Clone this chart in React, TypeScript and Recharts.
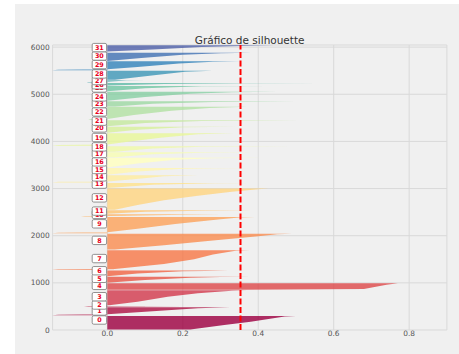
import React from 'react';
import { ComposedChart, Area, XAxis, YAxis, CartesianGrid, ReferenceLine, ReferenceDot } from 'recharts';

// Silhouette profile of each cluster: [sample index, silhouette value]
const clusterProfiles: number[][][] = [
  [[10, 0.22], [40, 0.25], [106, 0.31], [176, 0.38], [248, 0.44], [288, 0.47], [297, 0.5]],
  [[311, -0.147], [323, -0.13], [333, 0.0], [400, 0.12], [460, 0.24], [472, 0.28], [481, 0.326]],
  [[490, -0.062], [500, -0.05], [506, 0.1], [510, 0.2]],
  [[518, -0.02], [528, 0.01], [600, 0.08], [705, 0.16], [777, 0.24], [830, 0.33], [845, 0.37]],
  [[855, 0.35], [868, 0.68], [960, 0.74], [980, 0.76], [990, 0.77]],
  [[1000, 0.0], [1060, 0.1], [1110, 0.22], [1122, 0.3], [1129, 0.383]],
  [[1139, 0.0], [1200, 0.08], [1245, 0.2], [1254, 0.26], [1261, 0.32]],
  [[1271, -0.147], [1283, -0.13], [1294, 0.02], [1400, 0.15], [1500, 0.23], [1600, 0.28], [1680, 0.34], [1693, 0.378]],
  [[1705, 0.02], [1800, 0.15], [1900, 0.28], [1990, 0.4], [2030, 0.45], [2042, 0.489]],
  [[2052, -0.147], [2064, -0.13], [2075, 0.0], [2150, 0.08], [2250, 0.18], [2350, 0.3], [2385, 0.35], [2395, 0.39]],
  [[2403, -0.07], [2414, -0.06], [2422, 0.05], [2445, 0.2], [2455, 0.3]],
  [[2465, 0.0], [2510, 0.1], [2532, 0.25], [2541, 0.385]],
  [[2551, 0.02], [2650, 0.08], [2750, 0.15], [2850, 0.24], [2930, 0.33], [2985, 0.4], [3000, 0.427]],
  [[3010, 0.0], [3080, 0.12], [3112, 0.28], [3120, 0.378]],
  [[3130, -0.147], [3142, -0.13], [3152, 0.0], [3200, 0.07], [3260, 0.15], [3282, 0.24]],
  [[3292, 0.0], [3360, 0.08], [3420, 0.2], [3432, 0.28], [3438, 0.385]],
  [[3448, 0.0], [3530, 0.08], [3610, 0.18], [3645, 0.28], [3655, 0.41]],
  [[3665, 0.02], [3730, 0.12], [3762, 0.25], [3772, 0.385]],
  [[3782, 0.02], [3850, 0.12], [3885, 0.25], [3900, 0.49]],
  [[3910, -0.147], [3922, -0.13], [3932, 0.0], [4000, 0.06], [4080, 0.14], [4150, 0.24], [4172, 0.335]],
  [[4182, 0.0], [4250, 0.08], [4300, 0.2], [4312, 0.345]],
  [[4322, 0.0], [4390, 0.1], [4435, 0.25], [4448, 0.51]],
  [[4456, -0.05], [4468, -0.045], [4476, 0.0], [4560, 0.07], [4650, 0.17], [4710, 0.27], [4733, 0.37]],
  [[4743, 0.02], [4800, 0.12], [4838, 0.28], [4850, 0.5]],
  [[4860, 0.0], [4940, 0.1], [5010, 0.22], [5045, 0.33], [5056, 0.45]],
  [[5066, 0.0], [5130, 0.1], [5170, 0.25], [5178, 0.43]],
  [[5188, 0.0], [5220, 0.15], [5235, 0.35], [5240, 0.564]],
  [[5248, -0.055], [5260, -0.05], [5268, 0.0], [5290, 0.05], [5298, 0.1]],
  [[5308, 0.02], [5400, 0.118], [5480, 0.206], [5500, 0.278]],
  [[5510, -0.147], [5522, -0.13], [5532, 0.0], [5580, 0.08], [5650, 0.19], [5688, 0.28], [5698, 0.352]],
  [[5708, 0.0], [5770, 0.09], [5840, 0.2], [5868, 0.3], [5878, 0.383]],
  [[5886, -0.038], [5898, -0.03], [5906, 0.0], [5950, 0.12], [6000, 0.25], [6028, 0.38], [6038, 0.442]],
];

// y position (sample index) of each cluster's number label
const labelPositions = [
  212, 403, 530, 706, 947, 1096, 1257, 1515, 1901, 2252, 2452, 2522, 2803, 3094, 3248, 3405,
  3566, 3744, 3884, 4083, 4287, 4429, 4626, 4804, 4944, 5134, 5202, 5291, 5431, 5630, 5812, 5990,
];
const labelX = -0.021;
const averageSilhouette = 0.353;
const xTicks = [0, 0.2, 0.4, 0.6, 0.8];
const yTicks = [0, 1000, 2000, 3000, 4000, 5000, 6000];
const xDomain = [-0.145, 0.9];
const yDomain = [0, 6045];

// matplotlib "Spectral" colormap anchors
const spectral = [
  [158, 1, 66], [213, 62, 79], [244, 109, 67], [253, 174, 97], [254, 224, 139], [255, 255, 191],
  [230, 245, 152], [171, 221, 164], [102, 194, 165], [50, 136, 189], [94, 79, 162],
];
function spectralColor(t: number): string {
  const p = Math.min(Math.max(t, 0), 1) * 10;
  const i = Math.min(Math.floor(p), 9);
  const f = p - i;
  const a = spectral[i];
  const b = spectral[i + 1];
  const c = [0, 1, 2].map((k) => Math.round(a[k] + (b[k] - a[k]) * f));
  return `rgb(${c[0]},${c[1]},${c[2]})`;
}

const nClusters = clusterProfiles.length;
const rows: any[] = [];
clusterProfiles.forEach((pts, i) => {
  pts.forEach(([s, v]) => {
    rows.push({ y: s, ['c' + i]: v });
  });
});

const tickStyle = { fontSize: 7.4, fill: '#555', fontFamily: 'DejaVu Sans' };
const FONT = 'DejaVu Sans';

function makeLabelShape(label: string) {
  return (props: any) => {
    const { cx, cy } = props;
    return (
      <g>
        <rect x={cx - 7.2} y={cy - 4.2} width={14.4} height={8.4} rx={1.5} ry={1.5} fill="#ffffff" stroke="#777" strokeWidth={0.8} />
        <text x={cx} y={cy} dy="0.36em" textAnchor="middle" fontSize={6.4} fontWeight="bold" fill="#e8001c" fontFamily={FONT}>
          {label}
        </text>
      </g>
    );
  };
}

export default function App() {
  return (
    <div style={{ position: 'absolute', left: 0, top: 0, width: 459, height: 354, background: '#ffffff', overflow: 'hidden' }}>
      <div style={{ position: 'absolute', left: 15, top: 4, width: 444, height: 350, background: '#f0f0f0' }} />
      <div style={{ position: 'absolute', left: 0, top: 0 }}>
        <ComposedChart
          width={459}
          height={354}
          layout="vertical"
          data={rows}
          margin={{ top: 45, right: 12.1, bottom: 4, left: 12.6 }}
        >
          <CartesianGrid stroke="#d9d9d9" strokeWidth={1} />
          <XAxis
            type="number"
            domain={xDomain}
            allowDataOverflow
            ticks={xTicks}
            tickFormatter={(v: number) => v.toFixed(1)}
            axisLine={false}
            tickLine={false}
            tickSize={0}
            tickMargin={1}
            height={20}
            tick={tickStyle}
          />
          <YAxis
            type="number"
            dataKey="y"
            domain={yDomain}
            allowDataOverflow
            reversed
            ticks={yTicks}
            axisLine={false}
            tickLine={false}
            tickSize={0}
            tickMargin={3}
            width={40}
            tick={tickStyle}
          />
          {clusterProfiles.map((_, i) => (
            <Area
              key={i}
              type="linear"
              dataKey={'c' + i}
              baseValue={0}
              stroke="none"
              fill={spectralColor(i / nClusters)}
              fillOpacity={0.82}
              connectNulls={false}
              dot={false}
              activeDot={false}
              isAnimationActive={false}
            />
          ))}
          <ReferenceLine x={averageSilhouette} stroke="#ff0000" strokeWidth={2} strokeDasharray="6 2.5" />
          {labelPositions.map((ly, i) => (
            <ReferenceDot key={'l' + i} x={labelX} y={ly} r={0} shape={makeLabelShape(String(i))} />
          ))}
        </ComposedChart>
      </div>
      <div
        style={{
          position: 'absolute',
          left: 149.7,
          top: 34.6,
          width: 200,
          textAlign: 'center',
          fontFamily: FONT,
          fontSize: 10.5,
          lineHeight: '10.5px',
          color: '#333',
          whiteSpace: 'nowrap',
        }}
      >
        Gráfico de silhouette
      </div>
    </div>
  );
}
